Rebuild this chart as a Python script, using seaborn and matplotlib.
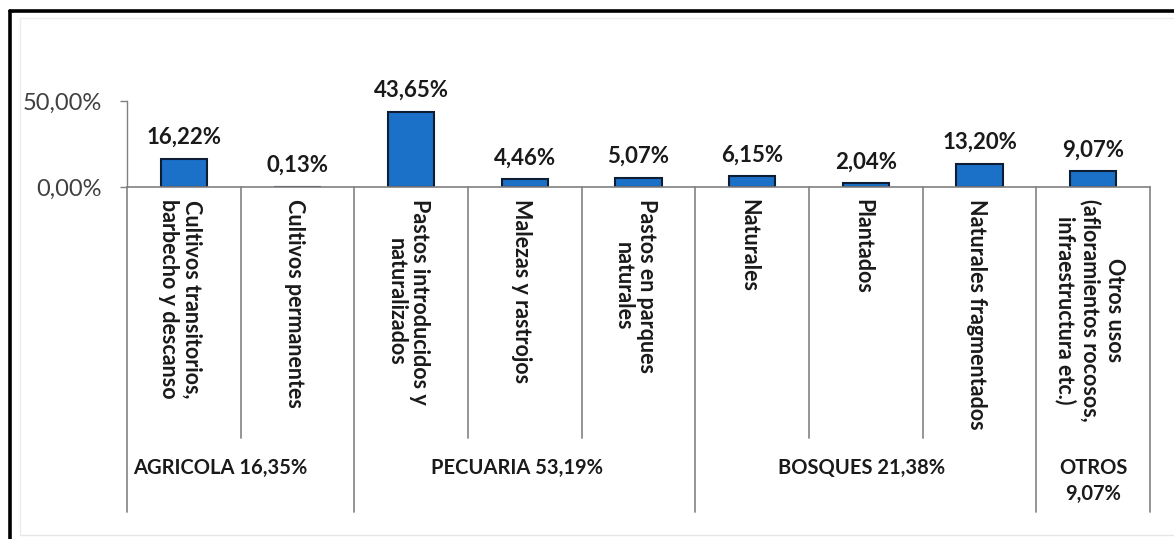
import matplotlib
matplotlib.use("Agg")
import matplotlib.pyplot as plt
import matplotlib.transforms as mtransforms
import seaborn as sns
import pandas as pd

# ---- data ----
categories = [
    "Cultivos transitorios,\nbarbecho y descanso",
    "Cultivos permanentes",
    "Pastos introducidos y\nnaturalizados",
    "Malezas y rastrojos",
    "Pastos en parques\nnaturales",
    "Naturales",
    "Plantados",
    "Naturales fragmentados",
    "Otros usos\n(afloramientos rocosos,\ninfraestructura etc.)",
]
values = [16.22, 0.13, 43.65, 4.46, 5.07, 6.15, 2.04, 13.20, 9.07]
value_labels = ["16,22%", "0,13%", "43,65%", "4,46%", "5,07%", "6,15%", "2,04%", "13,20%", "9,07%"]
groups = ["AGRICOLA 16,35%", "PECUARIA 53,19%", "BOSQUES 21,38%", "OTROS\n9,07%"]
group_sizes = [2, 3, 3, 1]
yticks = [0, 50]
ytick_labels = ["0,00%", "50,00%"]

df = pd.DataFrame({"cat": categories, "val": values})

sns.set_theme(style="white")
plt.rcParams["font.family"] = ["Lato", "DejaVu Sans"]

W, H = 1174, 539
fig = plt.figure(figsize=(W / 100, H / 100), dpi=100)
fig.patch.set_facecolor("white")

# axes placement in pixels
ax_left, ax_right, ax_top, ax_bottom = 127, 1150, 101, 187
ax = fig.add_axes([ax_left / W, 1 - ax_bottom / H, (ax_right - ax_left) / W, (ax_bottom - ax_top) / H])

sns.barplot(data=df, x="cat", y="val", ax=ax, color="#1b70c8", width=0.41,
            edgecolor="#0d1d33", linewidth=1.5, saturation=1)

ax.set_xlim(-0.5, len(categories) - 0.5)
ax.set_ylim(0, 50)
ax.set_xlabel("")
ax.set_ylabel("")
ax.set_xticks([])
ax.set_yticks(yticks)
ax.set_yticklabels(ytick_labels, fontsize=17, color="#404040")
ax.tick_params(axis="y", which="both", left=True, length=5, width=1, color="#808080", pad=13)
for s in ["top", "right"]:
    ax.spines[s].set_visible(False)
ax.spines["left"].set_color("#808080")
ax.spines["bottom"].set_color("#808080")
ax.spines["left"].set_linewidth(1)
ax.spines["bottom"].set_linewidth(1.2)
ax.set_facecolor("none")

# value labels
for i, (v, lab) in enumerate(zip(values, value_labels)):
    ax.annotate(lab, (i, v), xytext=(0, 8), textcoords="offset points", ha="center", va="bottom",
                fontsize=16, fontweight="bold", color="#1a1a1a", annotation_clip=False)

# blended transform: x in data, y in figure pixels (from top)
tr = mtransforms.blended_transform_factory(ax.transData, fig.transFigure)
def fy(px):
    return 1 - px / H

# category labels
for i, c in enumerate(categories):
    ax.text(i - 0.03, fy(199), c, transform=tr, rotation=270, ha="center", va="top",
            multialignment="center", fontsize=15.5, fontweight="bold", color="#1a1a1a",
            linespacing=1.15)

# divider lines
edges = [-0.5]
for s in group_sizes:
    edges.append(edges[-1] + s)
group_edges = set(edges)
for k in range(len(categories) + 1):
    x = k - 0.5
    bottom = 512 if x in group_edges else 438
    ax.plot([x, x], [fy(187), fy(bottom)], transform=tr, color="#8c8c8c", lw=1.3, clip_on=False)

# group labels
group_x = [0.32, 2.93, 5.96, 8.0]
for g, gx in zip(groups, group_x):
    ax.text(gx, fy(458), g, transform=tr, ha="center", va="top", fontsize=14.5, fontweight="bold",
            color="#1a1a1a", linespacing=1.35)

# outer frame (black) extending beyond the right/bottom edges
fig.add_artist(plt.Line2D([10 / W, 10 / W], [0, fy(11)], transform=fig.transFigure, color="black", lw=2.6))
fig.add_artist(plt.Line2D([10 / W, 1], [fy(11), fy(11)], transform=fig.transFigure, color="black", lw=2.6))
# faint inner chart-area frame
fig.add_artist(plt.Line2D([20 / W, 20 / W], [fy(535), fy(18)], transform=fig.transFigure, color="#ececec", lw=1))
fig.add_artist(plt.Line2D([20 / W, 1], [fy(535), fy(535)], transform=fig.transFigure, color="#e6e6e6", lw=1))
fig.add_artist(plt.Line2D([20 / W, 1], [fy(18), fy(18)], transform=fig.transFigure, color="#ececec", lw=1))

fig.savefig("out.png", dpi=100)
